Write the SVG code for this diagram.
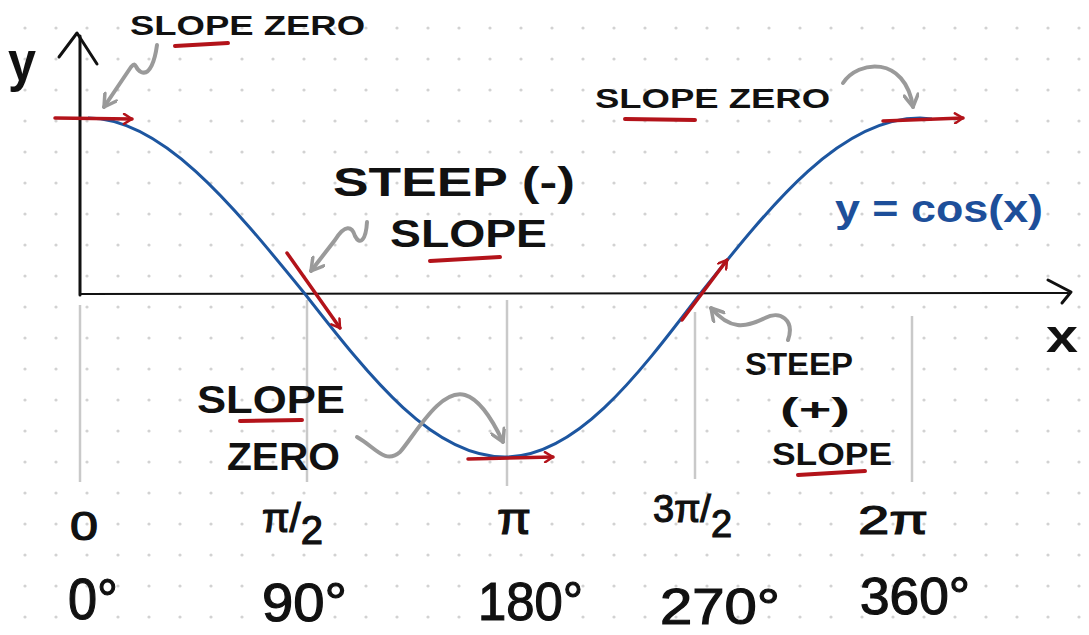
<svg xmlns="http://www.w3.org/2000/svg" width="1089" height="635" viewBox="0 0 1089 635">
<style>
.lbl{font-family:"Liberation Sans",Arial,sans-serif;font-weight:bold;fill:#111}
.num{font-family:"Liberation Sans",Arial,sans-serif;font-weight:normal;fill:#111;stroke:#111;stroke-width:1.2}
.blue{font-family:"Liberation Sans",Arial,sans-serif;font-weight:bold;fill:#1d4f9a}
.ul{stroke:#b3131a;stroke-width:4;stroke-linecap:round;fill:none}
.red{stroke:#b3131a;stroke-width:3.5;stroke-linecap:round;fill:none;marker-end:url(#redHead)}
.gray{stroke:#9a9a9a;stroke-width:4;stroke-linecap:round;stroke-linejoin:round;fill:none;marker-end:url(#grayHead)}
.tick{stroke:#c9c9c9;stroke-width:2.5;fill:none}
.axis{stroke:#111;stroke-width:3;fill:none;stroke-linecap:round;stroke-linejoin:round}
</style>
<defs>
<pattern id="dots" width="31" height="31" patternUnits="userSpaceOnUse">
<circle cx="25" cy="28" r="1.6" fill="#d2d2d2"/>
</pattern>
<marker id="redHead" viewBox="0 0 12 12" refX="10" refY="6" markerWidth="12" markerHeight="12" markerUnits="userSpaceOnUse" orient="auto">
<path d="M2,1 L10,6 L2,11" fill="none" stroke="#b3131a" stroke-width="2.5" stroke-linecap="round" stroke-linejoin="round"/>
</marker>
<marker id="grayHead" viewBox="0 0 16 16" refX="14" refY="8" markerWidth="16" markerHeight="16" markerUnits="userSpaceOnUse" orient="auto">
<path d="M2,1 L14,8 L2,15" fill="none" stroke="#9a9a9a" stroke-width="3.5" stroke-linecap="round" stroke-linejoin="round"/>
</marker>
</defs>
<rect width="1089" height="635" fill="#ffffff"/>
<rect width="1089" height="635" fill="url(#dots)"/>

<g id="ticks">
<line class="tick" x1="80" y1="305" x2="80" y2="482"/>
<line class="tick" x1="307" y1="300" x2="307" y2="482"/>
<line class="tick" x1="507" y1="300" x2="507" y2="486"/>
<line class="tick" x1="695" y1="312" x2="695" y2="479"/>
<line class="tick" x1="912" y1="316" x2="912" y2="482"/>
</g>

<g id="axes">
<line class="axis" x1="80" y1="36" x2="80" y2="295"/>
<path class="axis" d="M59,57 L77,33 L97,64"/>
<line class="axis" x1="80" y1="294" x2="1068" y2="293" style="stroke-width:2"/>
<path class="axis" d="M1048,280 L1071,292 L1062,303"/>
<text id="y-label" class="lbl" x="8" y="80" font-size="56" textLength="28" lengthAdjust="spacingAndGlyphs">y</text>
<text id="x-label" class="lbl" x="1046" y="352" font-size="46" textLength="32" lengthAdjust="spacingAndGlyphs">x</text>
</g>

<g id="curve">
<path d="M88,118 C161,118 229.8,201.6 305,294 C371.8,379.6 433,457 505,457 C575.2,457 634.8,379.6 700,294 C773.6,201.6 840.8,118 920,118 L932,119" fill="none" stroke="#1d56a0" stroke-width="3"/>
<text id="cos-label" class="blue" x="835" y="222" font-size="38" textLength="208" lengthAdjust="spacingAndGlyphs">y = cos(x)</text>
</g>

<g id="connectors">
<line class="red" x1="55" y1="118" x2="132" y2="119"/>
<line class="red" x1="287" y1="253" x2="340" y2="328"/>
<line class="red" x1="468" y1="459" x2="553" y2="457"/>
<line class="red" x1="682" y1="320" x2="727" y2="260"/>
<line class="red" x1="883" y1="121" x2="963" y2="118"/>
<path class="gray" d="M157,45 C155,60 150,76 141,72 C134,69 137,60 131,67 L104,107"/>
<path class="gray" d="M843,83 C858,60 905,55 913,107"/>
<path class="gray" d="M367,222 C366,240 360,246 355,236 C352,226 345,224 335,240 L311,271"/>
<path class="gray" d="M357,437 C375,447 385,465 400,452 C415,435 440,388 465,395 C482,400 495,425 503,442"/>
<path class="gray" d="M788,340 C795,320 780,310 765,318 C745,328 730,330 711,308"/>
</g>

<g id="label-slope-zero-top">
<text class="lbl" x="130" y="35" font-size="27" textLength="235" lengthAdjust="spacingAndGlyphs">SLOPE ZERO</text>
<path class="ul" d="M175,46 L228,43"/>
</g>
<g id="label-slope-zero-right">
<text class="lbl" x="595" y="108" font-size="27" textLength="235" lengthAdjust="spacingAndGlyphs">SLOPE ZERO</text>
<path class="ul" d="M625,119 L695,120"/>
</g>
<g id="label-steep-neg">
<text class="lbl" x="333" y="196" font-size="40" textLength="242" lengthAdjust="spacingAndGlyphs">STEEP (-)</text>
<text class="lbl" x="390" y="247" font-size="38" textLength="157" lengthAdjust="spacingAndGlyphs">SLOPE</text>
<path class="ul" d="M430,261 L500,257"/>
</g>
<g id="label-slope-zero-bottom">
<text class="lbl" x="197" y="413" font-size="38" textLength="148" lengthAdjust="spacingAndGlyphs">SLOPE</text>
<path class="ul" d="M240,421 L302,420"/>
<text class="lbl" x="227" y="470" font-size="38" textLength="113" lengthAdjust="spacingAndGlyphs">ZERO</text>
</g>
<g id="label-steep-pos">
<text class="lbl" x="745" y="375" font-size="32" textLength="108" lengthAdjust="spacingAndGlyphs">STEEP</text>
<text class="lbl" x="780" y="420" font-size="32" textLength="70" lengthAdjust="spacingAndGlyphs">(+)</text>
<text class="lbl" x="772" y="465" font-size="32" textLength="120" lengthAdjust="spacingAndGlyphs">SLOPE</text>
<path class="ul" d="M798,475 L865,471"/>
</g>

<g id="radians">
<text class="num" x="70" y="540" font-size="40" textLength="28" lengthAdjust="spacingAndGlyphs">0</text>
<text class="num" x="262" y="532" font-size="40">π/<tspan dy="12">2</tspan></text>
<text class="num" x="497" y="534" font-size="44" textLength="34" lengthAdjust="spacingAndGlyphs">π</text>
<text class="num" x="653" y="522" font-size="38">3π/<tspan dy="15">2</tspan></text>
<text class="num" x="858" y="534" font-size="40" textLength="70" lengthAdjust="spacingAndGlyphs">2π</text>
</g>
<g id="degrees">
<text class="num" x="68" y="619" font-size="58" textLength="50" lengthAdjust="spacingAndGlyphs">0°</text>
<text class="num" x="262" y="621" font-size="54" textLength="85" lengthAdjust="spacingAndGlyphs">90°</text>
<text class="num" x="478" y="620" font-size="54" textLength="105" lengthAdjust="spacingAndGlyphs">180°</text>
<text class="num" x="660" y="624" font-size="50" textLength="120" lengthAdjust="spacingAndGlyphs">270°</text>
<text class="num" x="860" y="614" font-size="52" textLength="110" lengthAdjust="spacingAndGlyphs">360°</text>
</g>
</svg>
